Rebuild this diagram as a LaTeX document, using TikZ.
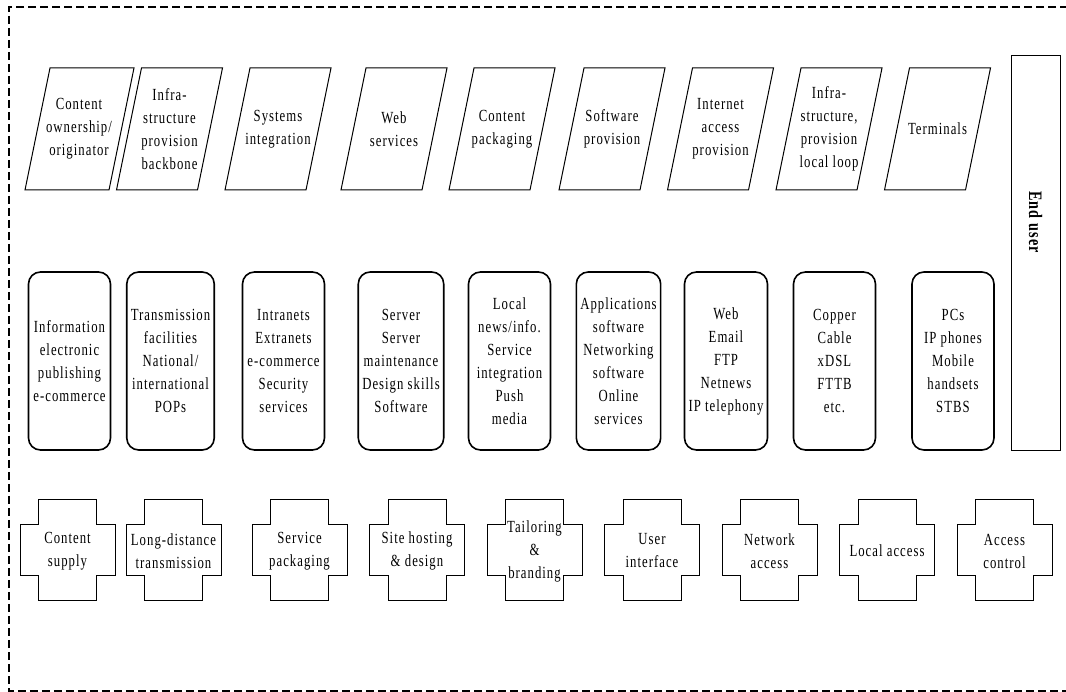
\documentclass[tikz,border=0pt]{standalone}
\usepackage{fontspec}
\setmainfont{Liberation Serif}[FakeStretch=0.75, LetterSpace=6]
\tikzset{
  role/.style={align=center, inner sep=0pt, font=\fontsize{17}{23}\selectfont},
  func/.style={role},
  activity/.style={
    rectangle, rounded corners=12pt, draw, line width=1.6pt,
    minimum width=82pt, minimum height=178pt, inner sep=4pt,
    align=center, font=\fontsize{17}{23}\selectfont
  },
  userbox/.style={rectangle, draw, line width=1pt,
                  minimum width=49pt, minimum height=395pt},
  frame/.style={draw, line width=1pt, line join=miter},
  zone/.style={dashed, dash pattern=on 8pt off 4pt, line width=1.3pt},
  slantframe/.style={insert path={++(-53,61) -- ++(25,-122) -- ++(81,0) -- ++(-25,122) -- cycle}},
  plusframe/.style={insert path={++(-29,-50.5) -- ++(58,0) -- ++(0,25) -- ++(18.5,0)
      -- ++(0,51) -- ++(-18.5,0) -- ++(0,25) -- ++(-58,0) -- ++(0,-25)
      -- ++(-18.5,0) -- ++(0,-51) -- ++(18.5,0) -- cycle}},
}

\begin{document}
\begin{tikzpicture}[x=1pt, y=-1pt]
  \useasboundingbox (0,0) rectangle (1066,692);

  % Roles
  \node[role] (own)   at (79,129)    {Content\\ownership/\\originator};
  \node[role] (infb)  at (169.5,129) {Infra-\\structure\\provision\\backbone};
  \node[role] (sys)   at (278,129)   {Systems\\integration};
  \node[role] (websv) at (394,129)   {Web\\services};
  \node[role] (cpack) at (502,129)   {Content\\packaging};
  \node[role] (softp) at (612,129)   {Software\\provision};
  \node[role] (inet)  at (720.5,129) {Internet\\access\\provision};
  \node[role] (infl)  at (829,129)   {Infra-\\structure,\\provision\\local loop};
  \node[role] (term)  at (937.5,129) {Terminals};

  \draw[frame] (own.center) ++(-54,61) -- ++(25,-122) -- ++(84,0) -- ++(-25,122) -- cycle;
  \draw[frame] (infb.center) [slantframe];
  \draw[frame] (sys.center) [slantframe];
  \draw[frame] (websv.center) [slantframe];
  \draw[frame] (cpack.center) [slantframe];
  \draw[frame] (softp.center) [slantframe];
  \draw[frame] (inet.center) [slantframe];
  \draw[frame] (infl.center) [slantframe];
  \draw[frame] (term.center) [slantframe];

  % Activities
  \node[activity] (info)   at (69.5,361)  {Information\\electronic\\publishing\\e-commerce};
  \node[activity] (trans)  at (170.5,361) {Transmission\\facilities\\National/\\international\\POPs};
  \node[activity] (intra)  at (283.5,361) {Intranets\\Extranets\\e-commerce\\Security\\services};
  \node[activity] (server) at (401,361)   {Server\\Server\\maintenance\\Design skills\\Software};
  \node[activity] (local)  at (509.5,361) {Local\\news/info.\\Service\\integration\\Push\\media};
  \node[activity] (apps)   at (618.5,361) {Applications\\software\\Networking\\software\\Online\\services};
  \node[activity] (web)    at (726,361)   {Web\\Email\\FTP\\Netnews\\IP telephony};
  \node[activity] (copper) at (834.5,361) {Copper\\Cable\\xDSL\\FTTB\\etc.};
  \node[activity] (pcs)    at (953,361)   {PCs\\IP phones\\Mobile\\handsets\\STBS};

  % Functions
  \node[func] (supply) at (67.5,551)  {Content\\supply};
  \node[func] (longd)  at (173.5,551) {Long-distance\\transmission};
  \node[func] (spack)  at (299.5,551) {Service\\packaging};
  \node[func] (host)   at (417,551)   {Site hosting\\\& design};
  \node[func] (tailor) at (534.5,551) {Tailoring\\\&\\branding};
  \node[func] (ui)     at (652,551)   {User\\interface};
  \node[func] (netacc) at (769.5,551) {Network\\access};
  \node[func] (locacc) at (887,551)   {Local access};
  \node[func] (accctl) at (1004.5,551) {Access\\control};

  \draw[frame] (supply.center) ++(0,-1.5) [plusframe];
  \draw[frame] (longd.center) ++(0,-1.5) [plusframe];
  \draw[frame] (spack.center) ++(0,-1.5) [plusframe];
  \draw[frame] (host.center) ++(0,-1.5) [plusframe];
  \draw[frame] (tailor.center) ++(0,-1.5) [plusframe];
  \draw[frame] (ui.center) ++(0,-1.5) [plusframe];
  \draw[frame] (netacc.center) ++(0,-1.5) [plusframe];
  \draw[frame] (locacc.center) ++(0,-1.5) [plusframe];
  \draw[frame] (accctl.center) ++(0,-1.5) [plusframe];

  % End user
  \node[userbox] (user) at (1035.5,253) {};
  \node[rotate=-90, font=\bfseries\fontsize{19}{20}\selectfont] (userlbl) at (1035.5,222) {End user};

  % Border
  \draw[zone] (1080,7) -- (9,7) -- (9,691) -- (1080,691);
\end{tikzpicture}
\end{document}
